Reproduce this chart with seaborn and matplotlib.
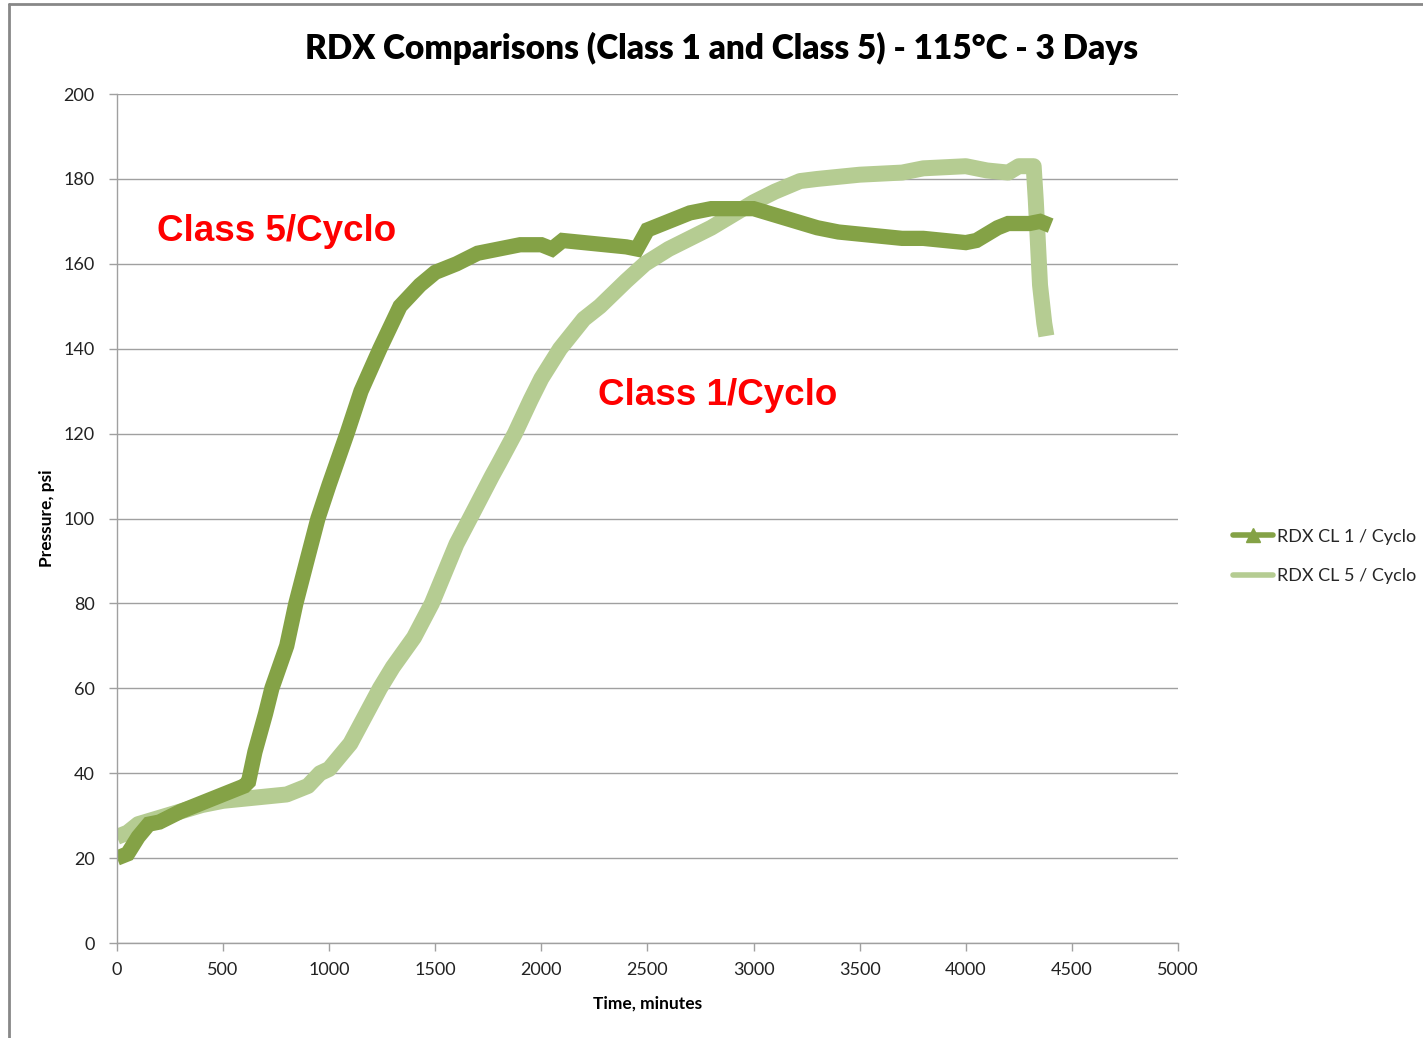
import numpy as np
import pandas as pd
import matplotlib.pyplot as plt
import seaborn as sns
from matplotlib.lines import Line2D

sns.set_style('white')
plt.rcParams['font.family'] = ['Lato', 'DejaVu Sans']

# RDX CL 1 / Cyclo (dark green)
t_cl1 = [0, 50, 100, 150, 200, 300, 400, 500, 600, 620, 650, 700, 730, 800, 843, 900, 947, 1000,
         1084, 1150, 1239, 1334, 1428, 1500, 1600, 1700, 1800, 1900, 2000, 2050, 2100, 2200, 2300,
         2400, 2450, 2500, 2600, 2700, 2800, 2900, 3000, 3100, 3200, 3300, 3400, 3500, 3600, 3700,
         3800, 3900, 4000, 4050, 4100, 4150, 4200, 4300, 4350, 4400]
p_cl1 = [20, 21, 25, 28, 28.5, 31, 33, 35, 37, 38, 45, 54, 60, 70, 80, 91, 100, 108,
         120, 130, 140, 150, 155, 158, 160, 162.5, 163.5, 164.5, 164.5, 163.5, 165.5, 165, 164.5,
         164, 163.5, 168, 170, 172, 173, 173, 173, 171.5, 170, 168.5, 167.5, 167, 166.5, 166,
         166, 165.5, 165, 165.5, 167, 168.5, 169.5, 169.5, 170, 169]

# RDX CL 5 / Cyclo (light green)
t_cl5 = [0, 50, 100, 200, 300, 400, 500, 600, 700, 800, 900, 957, 1000, 1100, 1239, 1300, 1400,
         1484, 1600, 1663, 1767, 1800, 1875, 1950, 2000, 2088, 2200, 2276, 2400, 2488, 2600, 2700,
         2800, 2900, 3000, 3100, 3219, 3300, 3500, 3700, 3800, 4000, 4100, 4200, 4250, 4320, 4330,
         4340, 4350, 4370, 4380]
p_cl5 = [25, 26, 28, 29.5, 31, 32.5, 33.5, 34, 34.5, 35, 37, 40, 41, 47, 60, 65, 72,
         80, 94, 100, 110, 113, 120, 128, 133, 140, 147, 150, 156, 160, 163.5, 166,
         168.5, 171.5, 174.5, 177, 179.5, 180, 181, 181.5, 182.5, 183, 182, 181.5, 183, 183, 175,
         165, 155, 146, 143]

series_names = ['RDX CL 1 / Cyclo', 'RDX CL 5 / Cyclo']
colors = ['#84a246', '#b5cc92']

df = pd.concat([
    pd.DataFrame({'time': t_cl1, 'pressure': p_cl1, 'series': series_names[0]}),
    pd.DataFrame({'time': t_cl5, 'pressure': p_cl5, 'series': series_names[1]}),
])

fig = plt.figure(figsize=(14.23, 10.38), dpi=100)
ax = fig.add_axes([0.0822, 0.0915, 0.7456, 0.8179])

sns.lineplot(data=df[df.series == series_names[1]], x='time', y='pressure', color=colors[1],
             linewidth=11.5, ax=ax, legend=False, sort=False,
             solid_joinstyle='round', solid_capstyle='butt')
sns.lineplot(data=df[df.series == series_names[0]], x='time', y='pressure', color=colors[0],
             linewidth=11, ax=ax, legend=False, sort=False,
             solid_joinstyle='miter', solid_capstyle='butt')

ax.set_xlim(0, 5000)
ax.set_ylim(0, 200)
ax.set_xticks(np.arange(0, 5001, 500))
ax.set_yticks(np.arange(0, 201, 20))
ax.yaxis.grid(True, color='#a0a0a0', linewidth=1)
ax.xaxis.grid(False)
for s in ['top', 'right']:
    ax.spines[s].set_visible(False)
for s in ['left', 'bottom']:
    ax.spines[s].set_color('#a0a0a0')
    ax.spines[s].set_linewidth(1)
ax.tick_params(axis='both', labelsize=13, colors='#a0a0a0', labelcolor='#222222',
               length=6, width=1, direction='out', bottom=True, left=True)
ax.tick_params(axis='y', pad=10)
ax.tick_params(axis='x', pad=8)

ax.set_xlabel('Time, minutes', fontsize=12.5, fontweight='bold', labelpad=12, color='black')
ax.set_ylabel('Pressure, psi', fontsize=12.5, fontweight='bold', labelpad=6, color='black')
ax.set_title('RDX Comparisons (Class 1 and Class 5) - 115°C - 3 Days',
             fontsize=24, fontweight='heavy', pad=25, x=0.57, color='black')

ax.text(188, 167.7, 'Class 5/Cyclo', color='#ff0000', fontsize=26.5, fontweight='bold',
        family='Liberation Sans', va='center', ha='left')
ax.text(2267, 128.9, 'Class 1/Cyclo', color='#ff0000', fontsize=26.5, fontweight='bold',
        family='Liberation Sans', va='center', ha='left')

handles = [
    Line2D([], [], color=colors[0], linewidth=4, marker='^', markersize=10),
    Line2D([], [], color=colors[1], linewidth=4),
]
fig.legend(handles, series_names, loc='center left', bbox_to_anchor=(0.855, 0.464),
           frameon=False, fontsize=13, handlelength=2.2, handletextpad=0.25, labelspacing=1.3)

# outer chart border (left and top)
fig.add_artist(Line2D([0.0065, 0.0065], [0, 0.996], transform=fig.transFigure,
                      color='#888888', linewidth=2))
fig.add_artist(Line2D([0.0065, 1], [0.996, 0.996], transform=fig.transFigure,
                      color='#888888', linewidth=2))

fig.savefig('out.png', dpi=100)
